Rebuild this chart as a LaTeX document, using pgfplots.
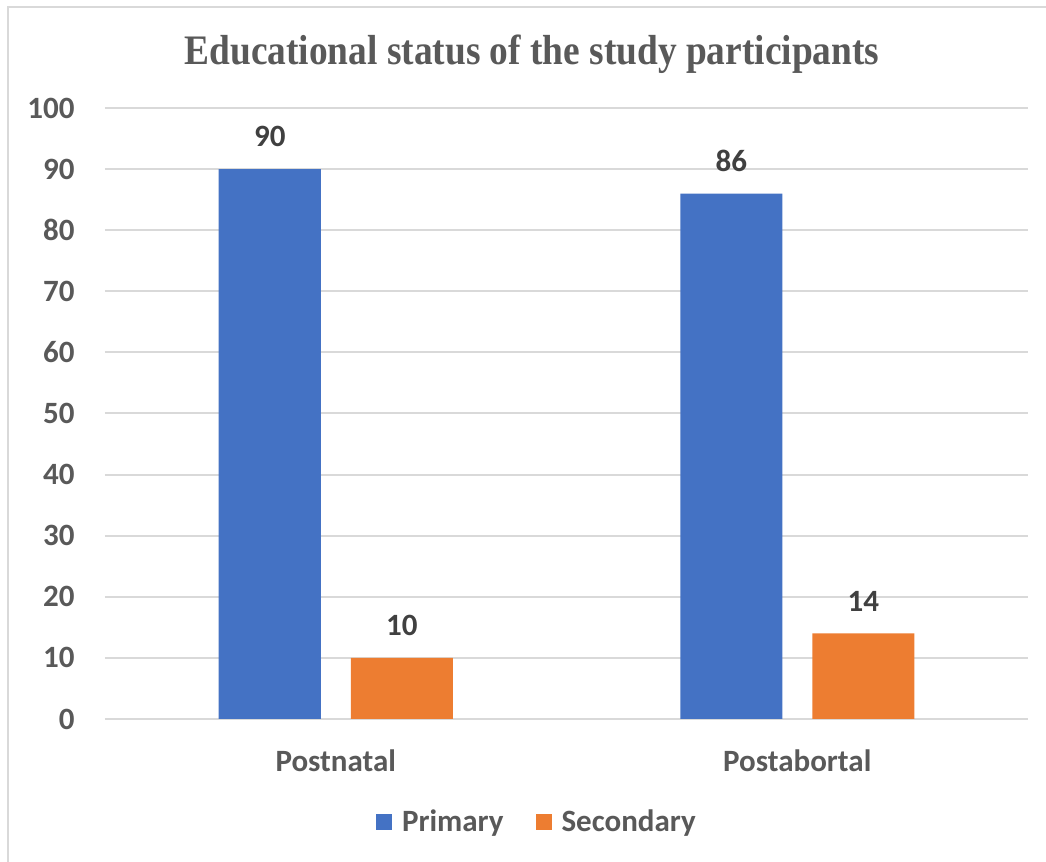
\documentclass[border=0pt]{standalone}
\usepackage{pgfplots}
\pgfplotsset{compat=1.18}
\usepackage{fontspec}
\setmainfont{Carlito}
\newfontfamily\titlefont[FakeStretch=0.89]{Liberation Serif}

\definecolor{primaryblue}{HTML}{4472C4}
\definecolor{secondaryorange}{HTML}{ED7D31}
\definecolor{gridgray}{HTML}{D9D9D9}
\definecolor{textgray}{HTML}{595959}
\definecolor{labelgray}{HTML}{404040}

\begin{document}
\begin{tikzpicture}[x=1pt,y=1pt]
\useasboundingbox (0,0) rectangle (523,431);
% chart frame (top and left edges visible)
\draw[gridgray, line width=1pt] (4,0) -- (4,427.5) -- (523,427.5);
\node[font=\titlefont\bfseries\fontsize{21}{25}\selectfont, text=textgray] at (266,404)
  {Educational status of the study participants};
\begin{axis}[
  at={(52.5pt,71.5pt)}, anchor=south west,
  scale only axis, width=461.5pt, height=305.5pt,
  xmin=-0.5, xmax=1.5, ymin=0, ymax=100,
  ybar=15pt, bar width=51pt,
  xtick={0,1}, xticklabels={Postnatal,Postabortal},
  ytick={0,10,...,100},
  axis line style={draw=none},
  major tick length=0pt,
  ymajorgrids, grid style={gridgray, line width=1pt},
  /pgf/number format/assume math mode=true,
  tick label style={font=\bfseries\fontsize{15.5}{18}\selectfont, text=textgray},
  yticklabel style={inner sep=0pt},
  yticklabel shift=15pt,
  xticklabel style={inner sep=0pt},
  xticklabel shift=15pt,
  nodes near coords,
  every node near coord/.append style={font=\bfseries\fontsize{15.5}{18}\selectfont,
    text=labelgray, anchor=south, yshift=7.5pt},
  legend style={at={(0.469,-0.169)}, anchor=center, draw=none, fill=none,
    font=\bfseries\fontsize{15.5}{18}\selectfont, text=textgray,
    legend columns=2,
    /tikz/every odd column/.append style={column sep=3pt},
    /tikz/every even column/.append style={column sep=14pt}},
  legend image code/.code={\fill[#1] (0pt,-4pt) rectangle (8pt,4pt);},
]
\addplot[fill=primaryblue, draw=none] coordinates {(0,90) (1,86)};
\addplot[fill=secondaryorange, draw=none] coordinates {(0,10) (1,14)};
\legend{Primary,Secondary}
\end{axis}
\end{tikzpicture}
\end{document}
